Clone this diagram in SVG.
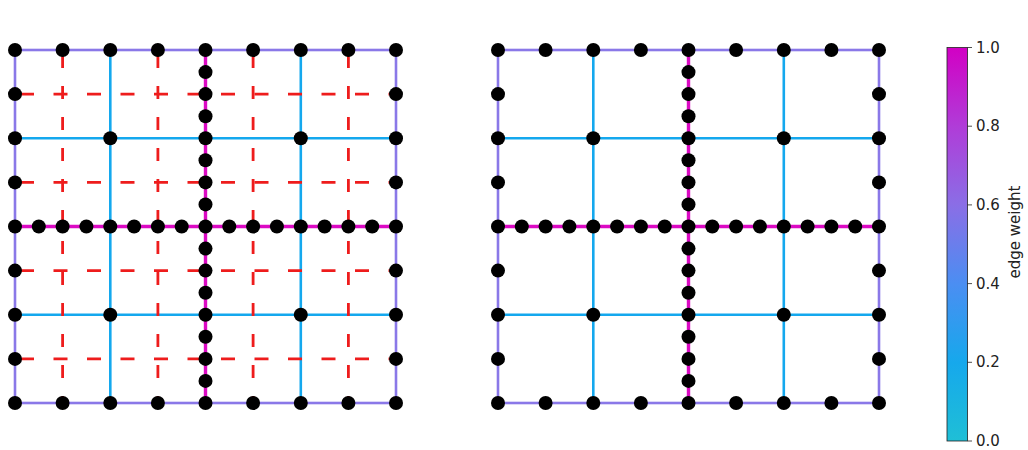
<svg xmlns="http://www.w3.org/2000/svg" width="1028" height="450" viewBox="0 0 1028 450">
<style>
.bd{stroke:#8a78e8;stroke-width:2.6;fill:none}
.cy{stroke:#14a8ee;stroke-width:2.6;fill:none}
.mg{stroke:#dc0ac4;stroke-width:3.4;fill:none}
.rd{stroke:#ee1c1c;stroke-width:2.8;fill:none;stroke-dasharray:14 19.5;stroke-dashoffset:-5}
.rv{stroke:#ee1c1c;stroke-width:2.8;fill:none;stroke-dasharray:13 18;stroke-dashoffset:-5}
circle{fill:#000;r:7px}
.t{font-family:"DejaVu Sans",sans-serif;font-size:15px;fill:#222}
</style>
<defs>
<linearGradient id="cmap" x1="0" y1="1" x2="0" y2="0">
<stop offset="0" stop-color="#1fbfd6"/>
<stop offset="0.2" stop-color="#16a8ec"/>
<stop offset="0.4" stop-color="#4b8ef2"/>
<stop offset="0.6" stop-color="#8a6ee6"/>
<stop offset="0.8" stop-color="#b03cd8"/>
<stop offset="1" stop-color="#d200c4"/>
</linearGradient>
</defs>
<rect width="1028" height="450" fill="#fff"/>

<g id="left-panel">
<g id="left-connectors">
<path class="cy" d="M110.3 50V403M300.8 50V403M15 138.3H396M15 314.8H396"/>
<rect class="bd" x="15" y="50" width="381" height="353"/>
<path class="mg" d="M205.5 50V403M15 226.5H396"/>
<path class="rv" d="M62.6 50V403M157.9 50V403M253.1 50V403M348.4 50V403"/>
<path class="rd" d="M15 94.1H396M15 182.4H396M15 270.6H396M15 358.9H396"/>
</g>
<g id="left-nodes">
<g id="L-t1"><circle cx="15" cy="50" r="7"/></g>
<g id="L-t2"><circle cx="62.6" cy="50" r="7"/></g>
<g id="L-t3"><circle cx="110.3" cy="50" r="7"/></g>
<g id="L-t4"><circle cx="157.9" cy="50" r="7"/></g>
<g id="L-t5"><circle cx="205.5" cy="50" r="7"/></g>
<g id="L-t6"><circle cx="253.1" cy="50" r="7"/></g>
<g id="L-t7"><circle cx="300.8" cy="50" r="7"/></g>
<g id="L-t8"><circle cx="348.4" cy="50" r="7"/></g>
<g id="L-t9"><circle cx="396" cy="50" r="7"/></g>
<g id="L-b1"><circle cx="15" cy="403" r="7"/></g>
<g id="L-b2"><circle cx="62.6" cy="403" r="7"/></g>
<g id="L-b3"><circle cx="110.3" cy="403" r="7"/></g>
<g id="L-b4"><circle cx="157.9" cy="403" r="7"/></g>
<g id="L-b5"><circle cx="205.5" cy="403" r="7"/></g>
<g id="L-b6"><circle cx="253.1" cy="403" r="7"/></g>
<g id="L-b7"><circle cx="300.8" cy="403" r="7"/></g>
<g id="L-b8"><circle cx="348.4" cy="403" r="7"/></g>
<g id="L-b9"><circle cx="396" cy="403" r="7"/></g>
<g id="L-l2"><circle cx="15" cy="94.1" r="7"/></g>
<g id="L-l3"><circle cx="15" cy="138.3" r="7"/></g>
<g id="L-l4"><circle cx="15" cy="182.4" r="7"/></g>
<g id="L-l5"><circle cx="15" cy="226.5" r="7"/></g>
<g id="L-l6"><circle cx="15" cy="270.6" r="7"/></g>
<g id="L-l7"><circle cx="15" cy="314.8" r="7"/></g>
<g id="L-l8"><circle cx="15" cy="358.9" r="7"/></g>
<g id="L-r2"><circle cx="396" cy="94.1" r="7"/></g>
<g id="L-r3"><circle cx="396" cy="138.3" r="7"/></g>
<g id="L-r4"><circle cx="396" cy="182.4" r="7"/></g>
<g id="L-r5"><circle cx="396" cy="226.5" r="7"/></g>
<g id="L-r6"><circle cx="396" cy="270.6" r="7"/></g>
<g id="L-r7"><circle cx="396" cy="314.8" r="7"/></g>
<g id="L-r8"><circle cx="396" cy="358.9" r="7"/></g>
<g id="L-h1"><circle cx="38.8" cy="226.5" r="7"/></g>
<g id="L-h2"><circle cx="62.6" cy="226.5" r="7"/></g>
<g id="L-h3"><circle cx="86.4" cy="226.5" r="7"/></g>
<g id="L-h4"><circle cx="110.3" cy="226.5" r="7"/></g>
<g id="L-h5"><circle cx="134.1" cy="226.5" r="7"/></g>
<g id="L-h6"><circle cx="157.9" cy="226.5" r="7"/></g>
<g id="L-h7"><circle cx="181.7" cy="226.5" r="7"/></g>
<g id="L-h8"><circle cx="205.5" cy="226.5" r="7"/></g>
<g id="L-h9"><circle cx="229.3" cy="226.5" r="7"/></g>
<g id="L-h10"><circle cx="253.1" cy="226.5" r="7"/></g>
<g id="L-h11"><circle cx="276.9" cy="226.5" r="7"/></g>
<g id="L-h12"><circle cx="300.8" cy="226.5" r="7"/></g>
<g id="L-h13"><circle cx="324.6" cy="226.5" r="7"/></g>
<g id="L-h14"><circle cx="348.4" cy="226.5" r="7"/></g>
<g id="L-h15"><circle cx="372.2" cy="226.5" r="7"/></g>
<g id="L-v1"><circle cx="205.5" cy="72.1" r="7"/></g>
<g id="L-v2"><circle cx="205.5" cy="94.1" r="7"/></g>
<g id="L-v3"><circle cx="205.5" cy="116.2" r="7"/></g>
<g id="L-v4"><circle cx="205.5" cy="138.3" r="7"/></g>
<g id="L-v5"><circle cx="205.5" cy="160.3" r="7"/></g>
<g id="L-v6"><circle cx="205.5" cy="182.4" r="7"/></g>
<g id="L-v7"><circle cx="205.5" cy="204.4" r="7"/></g>
<g id="L-v9"><circle cx="205.5" cy="248.6" r="7"/></g>
<g id="L-v10"><circle cx="205.5" cy="270.6" r="7"/></g>
<g id="L-v11"><circle cx="205.5" cy="292.7" r="7"/></g>
<g id="L-v12"><circle cx="205.5" cy="314.8" r="7"/></g>
<g id="L-v13"><circle cx="205.5" cy="336.8" r="7"/></g>
<g id="L-v14"><circle cx="205.5" cy="358.9" r="7"/></g>
<g id="L-v15"><circle cx="205.5" cy="380.9" r="7"/></g>
<g id="L-c1"><circle cx="110.3" cy="138.3" r="7"/></g>
<g id="L-c2"><circle cx="300.8" cy="138.3" r="7"/></g>
<g id="L-c3"><circle cx="110.3" cy="314.8" r="7"/></g>
<g id="L-c4"><circle cx="300.8" cy="314.8" r="7"/></g>
</g>
</g>

<g id="right-panel">
<g id="right-connectors">
<path class="cy" d="M593.3 50V403M783.8 50V403M498 138.3H879M498 314.8H879"/>
<rect class="bd" x="498" y="50" width="381" height="353"/>
<path class="mg" d="M688.5 50V403M498 226.5H879"/>
</g>
<g id="right-nodes">
<g id="R-t1"><circle cx="498" cy="50" r="7"/></g>
<g id="R-t2"><circle cx="545.6" cy="50" r="7"/></g>
<g id="R-t3"><circle cx="593.3" cy="50" r="7"/></g>
<g id="R-t4"><circle cx="640.9" cy="50" r="7"/></g>
<g id="R-t5"><circle cx="688.5" cy="50" r="7"/></g>
<g id="R-t6"><circle cx="736.1" cy="50" r="7"/></g>
<g id="R-t7"><circle cx="783.8" cy="50" r="7"/></g>
<g id="R-t8"><circle cx="831.4" cy="50" r="7"/></g>
<g id="R-t9"><circle cx="879" cy="50" r="7"/></g>
<g id="R-b1"><circle cx="498" cy="403" r="7"/></g>
<g id="R-b2"><circle cx="545.6" cy="403" r="7"/></g>
<g id="R-b3"><circle cx="593.3" cy="403" r="7"/></g>
<g id="R-b4"><circle cx="640.9" cy="403" r="7"/></g>
<g id="R-b5"><circle cx="688.5" cy="403" r="7"/></g>
<g id="R-b6"><circle cx="736.1" cy="403" r="7"/></g>
<g id="R-b7"><circle cx="783.8" cy="403" r="7"/></g>
<g id="R-b8"><circle cx="831.4" cy="403" r="7"/></g>
<g id="R-b9"><circle cx="879" cy="403" r="7"/></g>
<g id="R-l2"><circle cx="498" cy="94.1" r="7"/></g>
<g id="R-l3"><circle cx="498" cy="138.3" r="7"/></g>
<g id="R-l4"><circle cx="498" cy="182.4" r="7"/></g>
<g id="R-l5"><circle cx="498" cy="226.5" r="7"/></g>
<g id="R-l6"><circle cx="498" cy="270.6" r="7"/></g>
<g id="R-l7"><circle cx="498" cy="314.8" r="7"/></g>
<g id="R-l8"><circle cx="498" cy="358.9" r="7"/></g>
<g id="R-r2"><circle cx="879" cy="94.1" r="7"/></g>
<g id="R-r3"><circle cx="879" cy="138.3" r="7"/></g>
<g id="R-r4"><circle cx="879" cy="182.4" r="7"/></g>
<g id="R-r5"><circle cx="879" cy="226.5" r="7"/></g>
<g id="R-r6"><circle cx="879" cy="270.6" r="7"/></g>
<g id="R-r7"><circle cx="879" cy="314.8" r="7"/></g>
<g id="R-r8"><circle cx="879" cy="358.9" r="7"/></g>
<g id="R-h1"><circle cx="521.8" cy="226.5" r="7"/></g>
<g id="R-h2"><circle cx="545.6" cy="226.5" r="7"/></g>
<g id="R-h3"><circle cx="569.4" cy="226.5" r="7"/></g>
<g id="R-h4"><circle cx="593.3" cy="226.5" r="7"/></g>
<g id="R-h5"><circle cx="617.1" cy="226.5" r="7"/></g>
<g id="R-h6"><circle cx="640.9" cy="226.5" r="7"/></g>
<g id="R-h7"><circle cx="664.7" cy="226.5" r="7"/></g>
<g id="R-h8"><circle cx="688.5" cy="226.5" r="7"/></g>
<g id="R-h9"><circle cx="712.3" cy="226.5" r="7"/></g>
<g id="R-h10"><circle cx="736.1" cy="226.5" r="7"/></g>
<g id="R-h11"><circle cx="759.9" cy="226.5" r="7"/></g>
<g id="R-h12"><circle cx="783.8" cy="226.5" r="7"/></g>
<g id="R-h13"><circle cx="807.6" cy="226.5" r="7"/></g>
<g id="R-h14"><circle cx="831.4" cy="226.5" r="7"/></g>
<g id="R-h15"><circle cx="855.2" cy="226.5" r="7"/></g>
<g id="R-v1"><circle cx="688.5" cy="72.1" r="7"/></g>
<g id="R-v2"><circle cx="688.5" cy="94.1" r="7"/></g>
<g id="R-v3"><circle cx="688.5" cy="116.2" r="7"/></g>
<g id="R-v4"><circle cx="688.5" cy="138.3" r="7"/></g>
<g id="R-v5"><circle cx="688.5" cy="160.3" r="7"/></g>
<g id="R-v6"><circle cx="688.5" cy="182.4" r="7"/></g>
<g id="R-v7"><circle cx="688.5" cy="204.4" r="7"/></g>
<g id="R-v9"><circle cx="688.5" cy="248.6" r="7"/></g>
<g id="R-v10"><circle cx="688.5" cy="270.6" r="7"/></g>
<g id="R-v11"><circle cx="688.5" cy="292.7" r="7"/></g>
<g id="R-v12"><circle cx="688.5" cy="314.8" r="7"/></g>
<g id="R-v13"><circle cx="688.5" cy="336.8" r="7"/></g>
<g id="R-v14"><circle cx="688.5" cy="358.9" r="7"/></g>
<g id="R-v15"><circle cx="688.5" cy="380.9" r="7"/></g>
<g id="R-c1"><circle cx="593.3" cy="138.3" r="7"/></g>
<g id="R-c2"><circle cx="783.8" cy="138.3" r="7"/></g>
<g id="R-c3"><circle cx="593.3" cy="314.8" r="7"/></g>
<g id="R-c4"><circle cx="783.8" cy="314.8" r="7"/></g>
</g>
</g>

<g id="colorbar">
<rect x="947" y="47.5" width="20.5" height="393.5" fill="url(#cmap)" stroke="#222" stroke-width="0.8"/>
<path d="M967.5 47.5h4.5M967.5 126.2h4.5M967.5 204.9h4.5M967.5 283.6h4.5M967.5 362.3h4.5M967.5 441h4.5" stroke="#222" stroke-width="0.8"/>
<g class="t" dominant-baseline="central">
<text x="976" y="47.5">1.0</text>
<text x="976" y="126.2">0.8</text>
<text x="976" y="204.9">0.6</text>
<text x="976" y="283.6">0.4</text>
<text x="976" y="362.3">0.2</text>
<text x="976" y="441">0.0</text>
</g>
<text class="t" text-anchor="middle" transform="translate(1020 232) rotate(-90)">edge weight</text>
</g>
</svg>
